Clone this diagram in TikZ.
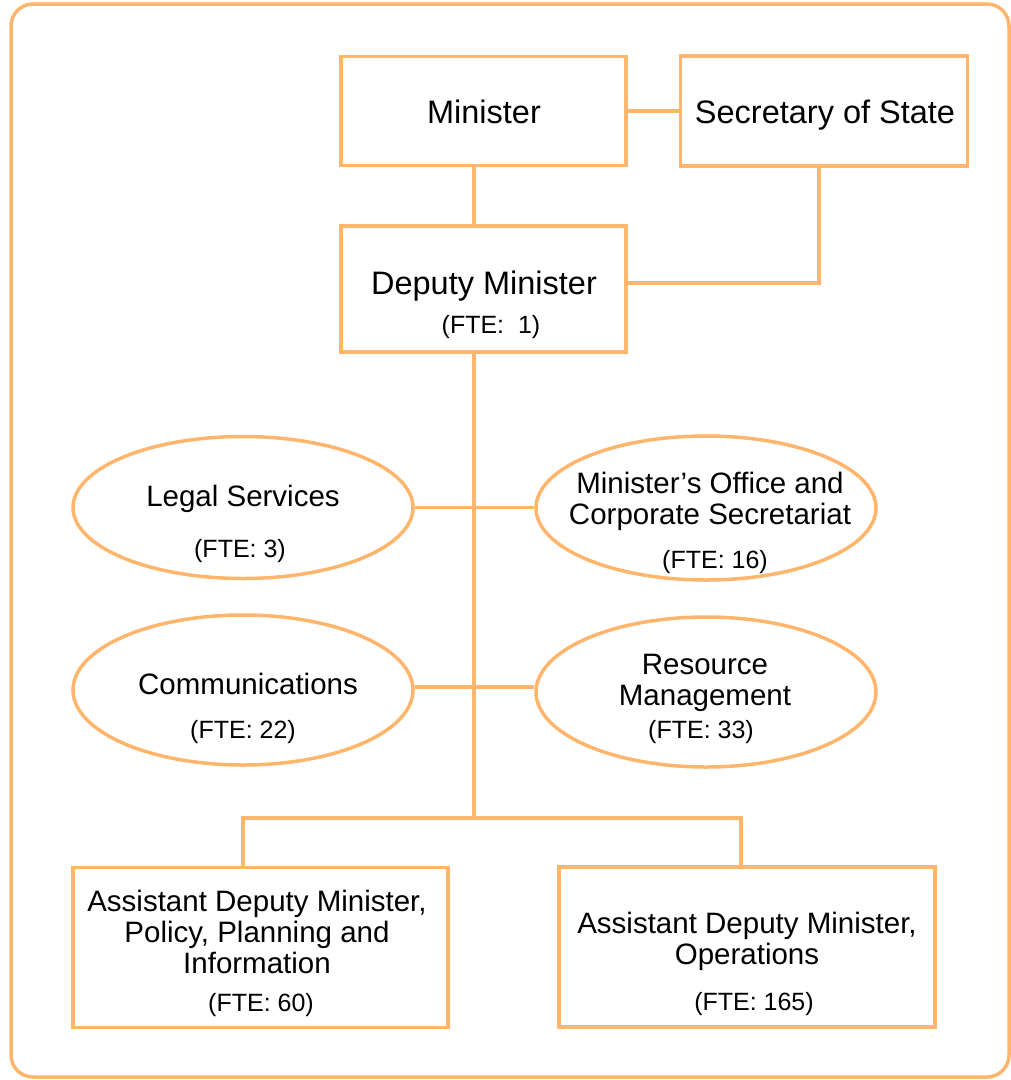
\documentclass[tikz,border=0pt]{standalone}
\usepackage{fontspec}
\setmainfont{Liberation Sans}
\usetikzlibrary{shapes.geometric}
\definecolor{org}{RGB}{255,182,108}
\begin{document}
\begin{tikzpicture}[x=1pt,y=-1pt,
  link/.style={draw=org,line width=3.5pt},
  unit/.style={draw=org,line width=3.5pt,rectangle,inner sep=0pt},
  oval/.style={draw=org,line width=3.5pt,ellipse,inner sep=0pt},
  big/.style={font=\fontsize{32.5}{36}\selectfont,inner sep=0pt,align=center},
  mid/.style={font=\fontsize{29.5}{30.8}\selectfont,inner sep=0pt,align=center},
  fte/.style={font=\fontsize{25}{28}\selectfont,inner sep=0pt}]
\useasboundingbox (0,0) rectangle (1011,1080);
% frame
\draw[draw=org,line width=3.5pt,rounded corners=22pt] (11,4) rectangle (1009,1077);

% boxes and ovals
\node[unit,minimum width=285pt,minimum height=109pt] (min) at (483.5,111) {};
\node[unit,minimum width=287pt,minimum height=110pt] (sos) at (824,111) {};
\node[unit,minimum width=285pt,minimum height=126pt] (dm) at (483.5,289) {};
\node[oval,minimum width=340pt,minimum height=142pt] (legal) at (243,507.5) {};
\node[oval,minimum width=340pt,minimum height=144pt] (office) at (706,508) {};
\node[oval,minimum width=340pt,minimum height=150pt] (comm) at (243,690) {};
\node[oval,minimum width=340pt,minimum height=150pt] (res) at (706,692) {};
\node[unit,minimum width=375pt,minimum height=160pt] (adma) at (260.5,947.5) {};
\node[unit,minimum width=376pt,minimum height=160pt] (admb) at (747,947) {};

% texts
\node[big] (tmin) at (484,112) {Minister};
\node[big] (tsos) at (825,115) {Secretary of State};
\node[big] (tdm) at (484,286) {Deputy Minister};
\node[fte] (fdm) at (491,327) {(FTE:\ \ 1)};
\node[mid] (tlegal) at (243,499) {Legal Services};
\node[fte] (flegal) at (240,551) {(FTE: 3)};
\node[mid] (toffice) at (710,501) {Minister’s Office and\\Corporate Secretariat};
\node[fte] (foffice) at (715,562) {(FTE: 16)};
\node[mid] (tcomm) at (248,684) {Communications};
\node[fte] (fcomm) at (243,732) {(FTE: 22)};
\node[mid] (tres) at (705,683) {Resource\\Management};
\node[fte] (fres) at (701,732) {(FTE: 33)};
\node[mid] (tadma) at (257,932) {Assistant Deputy Minister,\\Policy, Planning and\\Information};
\node[fte] (fadma) at (261,1005) {(FTE: 60)};
\node[mid] (tadmb) at (747,941) {Assistant Deputy Minister,\\Operations};
\node[fte] (fadmb) at (754,1004) {(FTE: 165)};

% connectors
\coordinate (trunk) at (474,818);
\coordinate (sx) at (819,283);
\coordinate (ba) at (243,818);
\coordinate (bb) at (741,818);
\draw[link] (min.east) -- (sos.west);
\draw[link] (trunk |- min.south) -- (trunk |- dm.north);
\draw[link] (sx |- sos.south) -- (sx) -- (dm.east |- sx);
\draw[link] (trunk |- dm.south) -- (trunk);
\draw[link] (legal.east) -- (office.west |- legal.east);
\draw[link] (comm.east |- 0,687) -- (res.west |- 0,687);
\draw[link] (ba |- adma.north) -- (ba) -- (bb) -- (bb |- admb.north);
\end{tikzpicture}
\end{document}
